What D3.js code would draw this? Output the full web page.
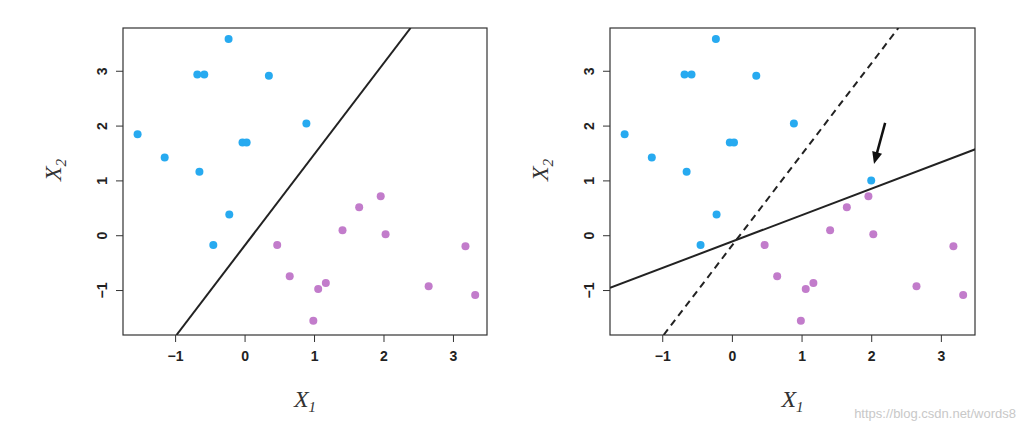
<!DOCTYPE html>
<html><head><meta charset="utf-8">
<script src="https://cdn.jsdelivr.net/npm/d3@7"></script>
<style>body{margin:0;background:#fff}</style></head>
<body><svg id="c" width="1026" height="435"></svg>
<script>
const blueX=[-0.23,-0.68,-0.58,0.35,-1.54,0.89,-1.15,-0.03,0.03,-0.65,-0.22,-0.45];
const blueY=[3.58,2.93,2.93,2.91,1.84,2.04,1.42,1.69,1.69,1.16,0.38,-0.18];
const extraBlue=[[2.0,1.0]];
const purpX=[0.47,0.65,1.65,1.96,1.41,2.03,1.17,1.06,0.99,2.65,3.18,3.32];
const purpY=[-0.18,-0.75,0.51,0.71,0.09,0.02,-0.87,-0.98,-1.56,-0.93,-0.2,-1.09];
const line1=[[-0.98,-1.82],[2.39,3.78]];
const line2=[[-1.75,-0.96],[3.52,1.58]];
const arrowPts=[[2.2,2.05],[2.04,1.3]];
const xTicks=[-1,0,1,2,3], yTicks=[-1,0,1,2,3];
const svg=d3.select("#c");
function panel(left,right,extra){
  const x=d3.scaleLinear().domain([-1.75,3.49]).range([left,right]);
  const y=d3.scaleLinear().domain([-1.82,3.78]).range([335,28]);
  const g=svg.append("g");
  const clip="cl"+left;
  g.append("clipPath").attr("id",clip).append("rect").attr("x",left).attr("y",28).attr("width",right-left).attr("height",307);
  g.append("rect").attr("x",left).attr("y",28).attr("width",right-left).attr("height",307).attr("fill","none").attr("stroke","#333").attr("stroke-width",1.2);
  const fmt=d=>d<0?"\u2212"+(-d):d;
  const xa=g.append("g").attr("transform","translate(0,335)").call(d3.axisBottom(x).tickValues(xTicks).tickSize(7).tickFormat(fmt));
  const ya=g.append("g").attr("transform",`translate(${left},0)`).call(d3.axisLeft(y).tickValues(yTicks).tickSize(7).tickFormat(fmt));
  [xa,ya].forEach(a=>{a.select(".domain").remove();a.selectAll("line").attr("stroke","#333");a.selectAll("text").attr("font-family","Liberation Sans").attr("font-size",14).attr("font-weight","bold").attr("fill","#222");});
  xa.selectAll("text").attr("dy","1.15em");
  ya.selectAll("text").attr("x",0).attr("y",-21).attr("dy","0.35em").attr("text-anchor","middle").attr("transform","rotate(-90)");
  g.append("text").attr("x",(left+right)/2).attr("y",407).attr("text-anchor","middle").attr("font-family","Liberation Serif").attr("font-style","italic").attr("font-size",24).attr("fill","#333").text("X").append("tspan").attr("font-size",15).attr("dy",5).text("1");
  const lx=left-62;
  g.append("text").attr("transform",`translate(${lx},170) rotate(-90)`).attr("text-anchor","middle").attr("font-family","Liberation Serif").attr("font-style","italic").attr("font-size",24).attr("fill","#333").text("X").append("tspan").attr("font-size",15).attr("dy",5).text("2");
  const pg=g.append("g").attr("clip-path",`url(#${clip})`);
  const ln=d3.line().x(d=>x(d[0])).y(d=>y(d[1]));
  pg.append("path").attr("d",ln(line1)).attr("stroke","#222").attr("stroke-width",2).attr("fill","none").attr("stroke-dasharray",extra?"7,5":null);
  if(extra) pg.append("path").attr("d",ln(line2)).attr("stroke","#222").attr("stroke-width",2).attr("fill","none");
  const bl=blueX.map((v,i)=>[v,blueY[i]]).concat(extra?extraBlue:[]);
  pg.selectAll(".b").data(bl).enter().append("circle").attr("cx",d=>x(d[0])).attr("cy",d=>y(d[1])).attr("r",4).attr("fill","#27aaf0");
  pg.selectAll(".p").data(purpX.map((v,i)=>[v,purpY[i]])).enter().append("circle").attr("cx",d=>x(d[0])).attr("cy",d=>y(d[1])).attr("r",4).attr("fill","#c27ccb");
  if(extra){
    const [a,b]=arrowPts;
    const x1=x(a[0]),y1=y(a[1]),x2=x(b[0]),y2=y(b[1]);
    pg.append("line").attr("x1",x1).attr("y1",y1).attr("x2",x2+(x1-x2)*0.25).attr("y2",y2+(y1-y2)*0.25).attr("stroke","#111").attr("stroke-width",2.5);
    const ang=Math.atan2(y2-y1,x2-x1),L=13,w=0.4;
    pg.append("path").attr("d",`M${x2},${y2}L${x2-L*Math.cos(ang-w)},${y2-L*Math.sin(ang-w)}L${x2-L*Math.cos(ang+w)},${y2-L*Math.sin(ang+w)}Z`).attr("fill","#111");
  }
}
panel(123,487,false);
panel(610,975,true);
svg.append("text").attr("x",1016).attr("y",418).attr("text-anchor","end").attr("font-family","Liberation Sans").attr("font-size",13).attr("fill","#c8c8c8").text("https://blog.csdn.net/words8");
</script>
</body></html>
